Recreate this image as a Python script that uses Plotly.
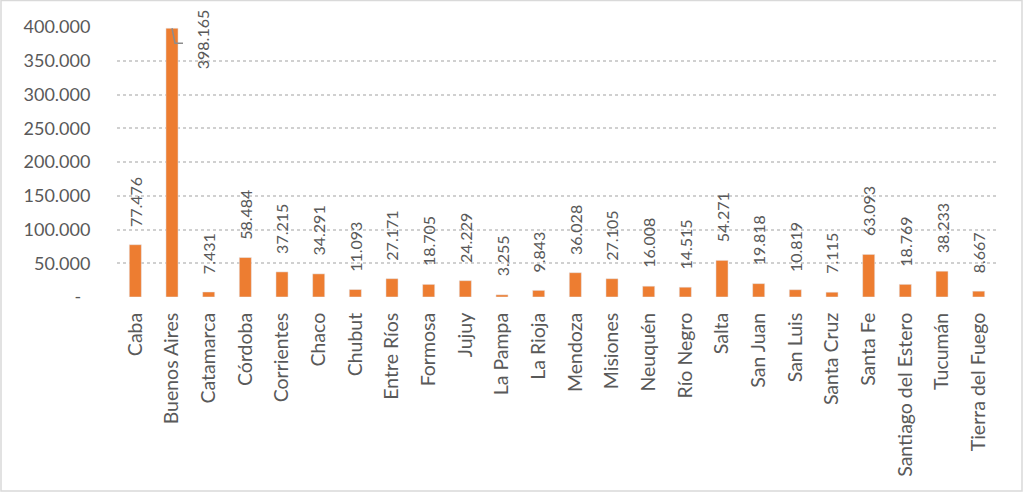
import plotly.graph_objects as go

provinces = ["Caba", "Buenos Aires", "Catamarca", "Córdoba", "Corrientes", "Chaco", "Chubut",
             "Entre Ríos", "Formosa", "Jujuy", "La Pampa", "La Rioja", "Mendoza", "Misiones",
             "Neuquén", "Río Negro", "Salta", "San Juan", "San Luis", "Santa Cruz", "Santa Fe",
             "Santiago del Estero", "Tucumán", "Tierra del Fuego"]
values = [77476, 398165, 7431, 58484, 37215, 34291, 11093, 27171, 18705, 24229, 3255, 9843,
          36028, 27105, 16008, 14515, 54271, 19818, 10819, 7115, 63093, 18769, 38233, 8667]
y_tickvals = [0, 50000, 100000, 150000, 200000, 250000, 300000, 350000, 400000]
y_ticktext = ["-\u00a0\u00a0", "50.000", "100.000", "150.000", "200.000", "250.000",
              "300.000", "350.000", "400.000"]

TEXT = "#595959"
BAR = "#ED7D31"
FONT = "Lato"

def fmt(v):
    return f"{v:,}".replace(",", ".")

W, H = 1024, 494
L, R, T, B = 117, 27, 27, 197
pw, ph = W - L - R, H - T - B

fig = go.Figure(go.Bar(x=provinces, y=values, marker_color=BAR, width=0.33))

annotations = []
for p, v in zip(provinces, values):
    if p == "Buenos Aires":
        annotations.append(dict(x=p, y=v, text=fmt(v), textangle=-90, showarrow=False,
                                xanchor="center", yanchor="middle", xshift=30, yshift=-12,
                                font=dict(family=FONT, size=16, color=TEXT)))
    else:
        annotations.append(dict(x=p, y=v, text=fmt(v), textangle=-90, showarrow=False,
                                xanchor="center", yanchor="bottom", yshift=16,
                                font=dict(family=FONT, size=16, color=TEXT)))

shapes = [
    dict(type="path", xref="x", yref="y", xsizemode="pixel", ysizemode="pixel",
         xanchor="Buenos Aires", yanchor=values[1], path="M0,0 L3,-15 L11,-15",
         line=dict(color="#8C8C8C", width=1.5)),
    dict(type="rect", xref="paper", yref="paper", layer="below",
         x0=(1 - L) / pw, x1=(1022 - L) / pw,
         y0=(H - B - 491) / ph, y1=(H - B - 0.5) / ph,
         line=dict(color="#D9D9D9", width=1.5)),
]

fig.update_layout(
    width=W, height=H,
    margin=dict(l=L, r=R, t=T, b=B),
    paper_bgcolor="white", plot_bgcolor="white",
    showlegend=False,
    annotations=annotations,
    shapes=shapes,
    font=dict(family=FONT, color=TEXT),
)
fig.update_xaxes(tickangle=-90, tickfont=dict(family=FONT, size=19.5, color=TEXT),
                 showgrid=False, showline=False, ticks="outside", ticklen=7,
                 tickcolor="rgba(0,0,0,0)", automargin=False)
fig.update_yaxes(range=[0, 400000], tickvals=y_tickvals, ticktext=y_ticktext,
                 tickfont=dict(family=FONT, size=18, color=TEXT),
                 showgrid=True, gridcolor="#D0D0D0", griddash="dot", gridwidth=1.5,
                 zeroline=False, showline=False, ticks="outside", ticklen=22,
                 tickcolor="rgba(0,0,0,0)", automargin=False)

fig.write_html("out.html", config={"displayModeBar": False},
               post_script="document.body.style.margin='0px';")
